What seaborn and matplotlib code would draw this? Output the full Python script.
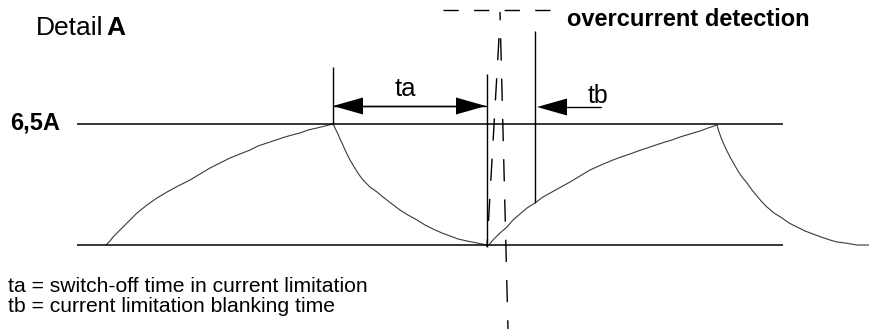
import matplotlib
matplotlib.use("Agg")
import matplotlib.pyplot as plt
import numpy as np
import pandas as pd
import seaborn as sns

# all coordinates are in picture pixels (x right, y down)
LEVEL_HIGH = 124
LEVEL_LOW = 245
LEVEL_X = [77, 783]

rise1_x = [106, 110, 113, 120, 127, 137, 147, 157, 167, 178, 190, 200, 210, 220, 230, 240, 250, 258, 267, 276, 285, 292, 300, 308, 317, 325, 333]
rise1_y = [245, 241, 237, 230, 223, 213, 205, 198, 192, 186, 180, 174, 168, 163, 158, 154, 150, 146, 143, 140, 137, 135, 133, 130, 128, 126, 124]
fall1_x = [333, 336, 338, 340, 342, 346, 350, 353, 356, 360, 363, 370, 377, 383, 392, 400, 408, 417, 425, 433, 442, 450, 458, 467, 472, 477, 482, 487]
fall1_y = [124, 130, 134, 139, 143, 152, 160, 165, 170, 176, 180, 187, 192, 197, 204, 210, 215, 220, 225, 229, 233, 236, 239, 241, 242, 243, 244, 245]
rise2_x = [489, 492, 495, 500, 507, 513, 520, 527, 535, 543, 552, 561, 570, 580, 590, 601, 613, 621, 630, 638, 647, 656, 665, 672, 680, 690, 700, 708, 717]
rise2_y = [245, 241, 238, 233, 227, 220, 214, 208, 203, 197, 192, 187, 182, 176, 170, 165, 160, 157, 154, 151, 148, 145, 142, 140, 137, 134, 131, 128, 125]
fall2_x = [717, 719, 722, 726, 730, 734, 738, 742, 747, 752, 757, 762, 767, 774, 782, 789, 797, 805, 813, 821, 830, 837, 845, 851, 857, 863, 869]
fall2_y = [125, 132, 140, 149, 157, 164, 171, 177, 183, 190, 196, 202, 207, 213, 218, 223, 227, 231, 234, 237, 240, 242, 243, 244, 245, 245, 245]

# solid verticals: x, y_top, y_bottom
vert_x = [333, 487, 535]
vert_top = [67, 74, 31]
vert_bot = [124, 247, 203]

# dashed lines: start, end, dash offset, dash pattern
dash_lines = [
    ((500, 12), (508, 329), 10, (16, 13)),
    ((499, 38), (487, 247), 0, (16, 13)),
    ((443, 10), (550, 10), 0, (11, 11)),
]

# arrows: tip x, tail x, y
arrow_tip = [333, 486, 537]
arrow_tail = [486, 333, 601]
arrow_y = [106, 106, 107]
HEAD_LEN, HEAD_HALF = 30, 8.5

sns.set_theme(style="white")
plt.rcParams["font.family"] = ["Liberation Sans", "DejaVu Sans"]
plt.rcParams["text.color"] = "black"

fig = plt.figure(figsize=(8.69, 3.29), dpi=100)
ax = fig.add_axes([0, 0, 1, 1])

curves = pd.DataFrame({
    "x": rise1_x + fall1_x + rise2_x + fall2_x,
    "y": rise1_y + fall1_y + rise2_y + fall2_y,
    "seg": ["r1"] * len(rise1_x) + ["f1"] * len(fall1_x) + ["r2"] * len(rise2_x) + ["f2"] * len(fall2_x),
})
sns.lineplot(data=curves, x="x", y="y", units="seg", estimator=None, sort=False,
             color="#3a3a3a", linewidth=0.8, ax=ax)
ax.set_xlim(0, 869)
ax.set_ylim(329, 0)
ax.axis("off")

ax.hlines([LEVEL_HIGH, LEVEL_LOW], LEVEL_X[0], LEVEL_X[1], color="black", linewidth=1.1)
ax.vlines(vert_x, vert_top, vert_bot, color="black", linewidth=1.0)

for (x0, y0), (x1, y1), off, pat in dash_lines:
    ax.plot([x0, x1], [y0, y1], color="black", linewidth=1.0, linestyle=(off, pat))

for tip, tail, y in zip(arrow_tip, arrow_tail, arrow_y):
    d = np.sign(tail - tip)
    ax.plot([tip + d * HEAD_LEN, tail], [y, y], color="black", linewidth=1.0)
    ax.fill([tip, tip + d * HEAD_LEN, tip + d * HEAD_LEN], [y, y - HEAD_HALF, y + HEAD_HALF],
            color="black", linewidth=0)

ax.text(36, 28, "Detail", fontsize=19, ha="left", va="center")
ax.text(106, 28, "A", fontsize=19, fontweight="bold", ha="left", va="center")
ax.text(10, 123, "6,5A", fontsize=17, fontweight="bold", ha="left", va="center")
ax.text(567, 19, "overcurrent detection", fontsize=17, fontweight="bold", ha="left", va="center")
ax.text(395, 89, "ta", fontsize=18.5, ha="left", va="center")
ax.text(588, 96, "tb", fontsize=18, ha="left", va="center")
ax.text(8, 287, "ta = switch-off time in current limitation", fontsize=15.2, ha="left", va="center")
ax.text(8, 307, "tb = current limitation blanking time", fontsize=15.2, ha="left", va="center")

fig.savefig("out.png", dpi=100)
